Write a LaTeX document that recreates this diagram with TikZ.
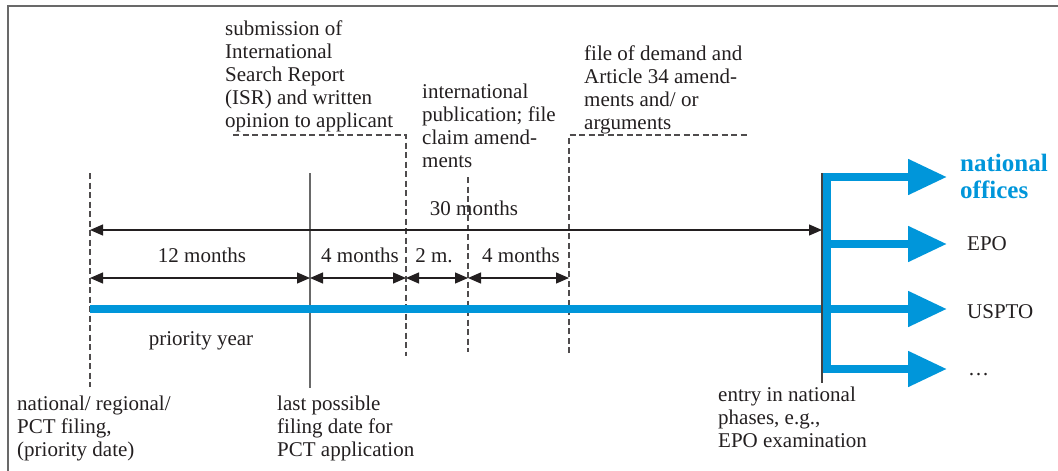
\documentclass[tikz,border=0pt]{standalone}
\usepackage{fontspec}
\setmainfont{Liberation Serif}
\usetikzlibrary{arrows.meta}
\definecolor{pctblue}{RGB}{0,150,218}
\definecolor{ink}{RGB}{35,31,32}
\definecolor{rule}{RGB}{105,105,105}

\begin{document}
\begin{tikzpicture}[x=1pt,y=-1pt,
  txt/.style={font=\fontsize{21}{23}\selectfont, text=ink, inner sep=0pt, align=left, anchor=north west},
  lbl/.style={font=\fontsize{21}{23}\selectfont, text=ink, inner sep=0pt, anchor=base},
  office/.style={font=\fontsize{21}{23}\selectfont, text=ink, inner sep=0pt, anchor=base west},
  dim/.style={draw=ink, line width=1.2pt, {Triangle[length=13pt,width=11pt]}-{Triangle[length=13pt,width=11pt]}},
  marker/.style={draw=rule, line width=1.3pt},
  dashmarker/.style={draw=ink!80, line width=1.2pt, dash pattern=on 6pt off 3.5pt},
  flow/.style={draw=pctblue, line width=8pt},
  flowarrow/.style={flow, -{Triangle[length=39pt,width=34pt]}},
]
\useasboundingbox (0,0) rectangle (1058,471);

% frame (top and left edges)
\draw[rule, line width=2.5pt] (8,475) -- (8,6) -- (1062,6);

% points on the time line
\coordinate (t0)  at (90,309);
\coordinate (t12) at (310,309);
\coordinate (t16) at (406,309);
\coordinate (t18) at (468,309);
\coordinate (t22) at (569,309);
\coordinate (t30) at (822,309);

% event markers
\draw[dashmarker] (90,173) -- (90,387);
\draw[marker] (310,173) -- (310,388);
\draw[dashmarker] (233,135) -- (406,135) -- (406,356);
\draw[dashmarker] (468,177) -- (468,352);
\draw[dashmarker] (569,353) -- (569,135) -- (747,135);

% period dimensions
\coordinate (d30a) at (90,230);  \coordinate (d30b) at (822,230);
\coordinate (r0)  at (90,278);   \coordinate (r12) at (310,278);
\coordinate (r16) at (406,278);  \coordinate (r18) at (468,278);
\coordinate (r22) at (569,278);
\draw[dim] (d30a) -- (d30b);
\draw[dim] (r0) -- (r12);
\draw[dim] (r12) -- (r16);
\draw[dim] (r16) -- (r18);
\draw[dim] (r18) -- (r22);

\node[lbl] (l30) at (474,215) {30 months};
\node[lbl] (l12) at (202,262) {12 months};
\node[lbl] (l4a) at (360,262) {4 months};
\node[lbl] (l2)  at (434,262) {2 m.};
\node[lbl] (l4b) at (521,262) {4 months};
\node[lbl] (lpy) at (201,345) {priority year};

% national offices
\node[font=\bfseries\fontsize{25}{27}\selectfont, text=pctblue, inner sep=0pt, align=left, anchor=north west]
  (natoff) at (960,154) {national\\offices};
\node[office] (epo)   at (967,250) {EPO};
\node[office] (uspto) at (967,318) {USPTO};
\node[office] (more)  at (968,375) {…};

\coordinate (e1) at (947,177);
\coordinate (e2) at (947,244);
\coordinate (e3) at (947,309);
\coordinate (e4) at (947,369);

% main flow and branches into the national phases
\draw[flow] (826.5,373) -- (826.5,173);
\draw[flowarrow] (t0) -- (e3);
\draw[flowarrow] (822.5,177) -- (e1);
\draw[flowarrow] (822.5,244) -- (e2);
\draw[flowarrow] (822.5,369) -- (e4);
\draw[draw=ink!85, line width=1.3pt] (822,173) -- (822,383);

% event descriptions
\node[txt] (isr) at (225,20.7) {submission of\\International\\Search Report\\(ISR) and written\\opinion to applicant};
\node[txt] (pub) at (422,83.7) {international\\publication; file\\claim amend-\\ments};
\node[txt] (dem) at (584,45.7) {file of demand and\\Article 34 amend-\\ments and/ or\\arguments};
\node[txt] (prio) at (17,395.7) {national/ regional/\\PCT filing,\\(priority date)};
\node[txt] (last) at (277,395.7) {last possible\\filing date for\\PCT application};
\node[txt] (entry) at (718,386.7) {entry in national\\phases, e.g.,\\EPO examination};
\end{tikzpicture}
\end{document}
